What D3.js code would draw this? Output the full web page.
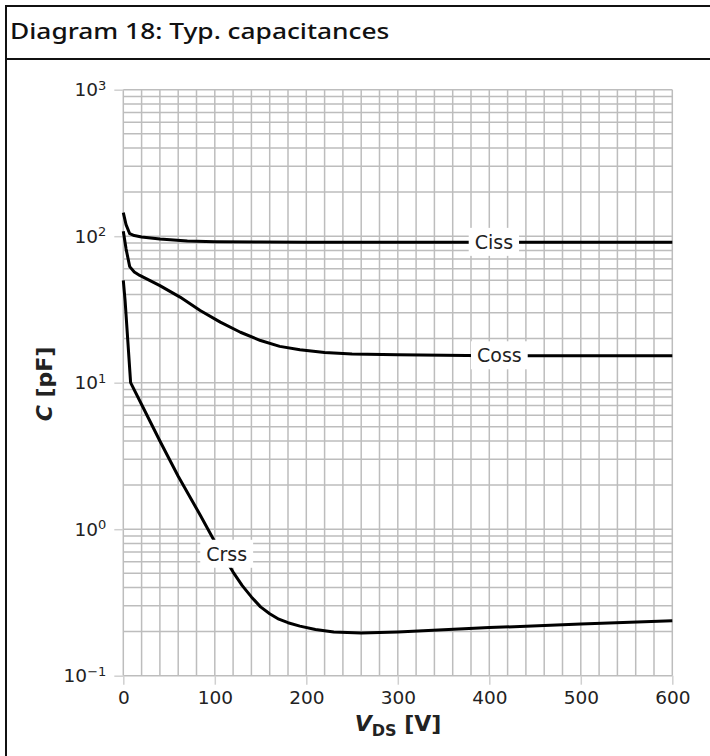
<!DOCTYPE html>
<html>
<head>
<meta charset="utf-8">
<script src="https://cdn.jsdelivr.net/npm/d3@7"></script>
<style>
  body { margin: 0; background: #fff; }
  svg { display: block; }
  text { font-family: "DejaVu Sans", sans-serif; fill: #222; }
</style>
</head>
<body>
<svg id="chart"></svg>
<script>
var viewWidth = 710;
var viewHeight = 756;

// values (V in volts, C in pF)
var vCiss = [0, 3, 7, 12, 20, 40, 70, 100, 150, 200, 300, 400, 500, 600];
var cCiss = [145, 120, 104, 101, 98.8, 95.7, 92.7, 91.6, 91.2, 91, 91, 91, 91, 91];

var vCoss = [0, 3, 7, 12, 18, 40, 62, 84, 106, 128, 150, 171, 193, 220, 250, 300, 400, 500, 600];
var cCoss = [108, 82, 62, 57, 54, 46, 38.4, 31.1, 25.9, 22.1, 19.4, 17.7, 16.8, 16.1, 15.7, 15.5, 15.3, 15.3, 15.3];

var vCrss = [0, 2, 5, 8, 20, 40, 60, 84, 100, 110, 120, 130, 140, 150, 160, 170, 180, 193, 210, 230, 260, 300, 400, 500, 600];
var cCrss = [50, 36, 19, 10, 7.1, 4.0, 2.3, 1.25, 0.82, 0.645, 0.51, 0.412, 0.345, 0.295, 0.265, 0.243, 0.23, 0.218, 0.207, 0.199, 0.196, 0.199, 0.213, 0.225, 0.237];

var seriesNames = ["Ciss", "Coss", "Crss"];
var labelV = [405, 411, 113];
var labelC = [91, 15.3, 0.676];

var xTicks = [0, 100, 200, 300, 400, 500, 600];
var yTicks = [0.1, 1, 10, 100, 1000];
var yExponents = ["\u22121", "0", "1", "2", "3"];

var title = "Diagram 18: Typ. capacitances";

var margin = {top: 89.7, right: 37.7, bottom: 80.3, left: 123.3};
var width = viewWidth - margin.left - margin.right;
var height = viewHeight - margin.top - margin.bottom;

var svg = d3.select("#chart")
    .attr("width", viewWidth)
    .attr("height", viewHeight);

// frame of the datasheet table cell
svg.append("line").attr("x1", 6).attr("x2", viewWidth).attr("y1", 6).attr("y2", 6)
    .attr("stroke", "#111").attr("stroke-width", 2);
svg.append("line").attr("x1", 6).attr("x2", viewWidth).attr("y1", 59).attr("y2", 59)
    .attr("stroke", "#111").attr("stroke-width", 2);
svg.append("line").attr("x1", 6).attr("x2", 6).attr("y1", 5).attr("y2", viewHeight)
    .attr("stroke", "#111").attr("stroke-width", 2);

// the title in the datasheet is set in a wide face, stretch it to match
svg.append("text")
    .attr("transform", "translate(10,39) scale(1.17,1)")
    .style("font-family", "'Noto Sans', sans-serif")
    .style("font-size", "22.5px")
    .style("font-weight", 500)
    .style("fill", "#111")
    .text(title);

var g = svg.append("g")
    .attr("transform", "translate(" + margin.left + "," + margin.top + ")");

var x = d3.scaleLinear().domain([0, 600]).range([0, width]);
var y = d3.scaleLog().domain([0.1, 1000]).range([height, 0]);

// grid
var xGrid = d3.range(0, 601, 20);
var yGrid = [];
[-1, 0, 1, 2].forEach(function(e) {
  for (var k = 1; k < 10; k++) yGrid.push(k * Math.pow(10, e));
});
yGrid.push(1000);

g.append("g").attr("class", "grid")
  .selectAll("line.v").data(xGrid).enter().append("line")
    .attr("x1", function(d) { return x(d); })
    .attr("x2", function(d) { return x(d); })
    .attr("y1", 0).attr("y2", height)
    .attr("stroke", "#bdbdbd").attr("stroke-width", 1.5);

g.append("g").attr("class", "grid")
  .selectAll("line.h").data(yGrid).enter().append("line")
    .attr("x1", 0).attr("x2", width)
    .attr("y1", function(d) { return y(d); })
    .attr("y2", function(d) { return y(d); })
    .attr("stroke", "#bdbdbd").attr("stroke-width", 1.5);

// axes (ticks only, no domain line)
var xAxis = d3.axisBottom(x).tickValues(xTicks).tickSize(9).tickPadding(6)
    .tickFormat(d3.format("d"));
var yAxis = d3.axisLeft(y).tickValues(yTicks).tickSize(9).tickPadding(8)
    .tickFormat(function() { return ""; });

var gx = g.append("g")
    .attr("transform", "translate(0," + height + ")")
    .call(xAxis);
var gy = g.append("g").call(yAxis);

[gx, gy].forEach(function(a) {
  a.select(".domain").remove();
  a.selectAll(".tick line").attr("stroke", "#d0d0d0").attr("stroke-width", 1.5);
  a.selectAll(".tick text")
    .style("font-family", "'DejaVu Sans', sans-serif")
    .style("font-size", "18.5px")
    .attr("fill", "#222");
});

gy.selectAll(".tick text").each(function(d, i) {
  var t = d3.select(this);
  t.text("");
  t.append("tspan").text("10");
  t.append("tspan").attr("dy", "-0.5em").style("font-size", "13px").text(yExponents[i]);
});

// curves
var line = d3.line()
    .x(function(d) { return x(d[0]); })
    .y(function(d) { return y(d[1]); })
    .curve(d3.curveLinear);

var curves = [
  d3.zip(vCiss, cCiss),
  d3.zip(vCoss, cCoss),
  d3.zip(vCrss, cCrss)
];

g.selectAll(".curve").data(curves).enter().append("path")
    .attr("class", "curve")
    .attr("d", line)
    .attr("fill", "none")
    .attr("stroke", "#000")
    .attr("stroke-width", 3)
    .attr("stroke-linejoin", "round");

// inline labels with white boxes
seriesNames.forEach(function(name, i) {
  var lg = g.append("g");
  var txt = lg.append("text")
      .attr("x", x(labelV[i]))
      .attr("y", y(labelC[i]))
      .attr("dy", "0.35em")
      .attr("text-anchor", "middle")
      .style("font-size", "19px")
      .text(name);
  var bb = txt.node().getBBox();
  lg.insert("rect", "text")
      .attr("x", bb.x - 6)
      .attr("y", bb.y - 3)
      .attr("width", bb.width + 12)
      .attr("height", bb.height + 6)
      .attr("fill", "#fff");
});

// axis titles
var yl = svg.append("text")
    .attr("transform", "translate(52,384) rotate(-90)")
    .attr("text-anchor", "middle")
    .style("font-size", "22px")
    .style("font-weight", "bold");
yl.append("tspan").style("font-style", "italic").text("C");
yl.append("tspan").text(" [pF]");

var xl = svg.append("text")
    .attr("x", 398)
    .attr("y", 731)
    .attr("text-anchor", "middle")
    .style("font-size", "22px")
    .style("font-weight", "bold");
xl.append("tspan").style("font-style", "italic").text("V");
xl.append("tspan").attr("dy", 5).style("font-size", "16px").text("DS");
xl.append("tspan").attr("dy", -5).text(" [V]");
</script>
</body>
</html>
